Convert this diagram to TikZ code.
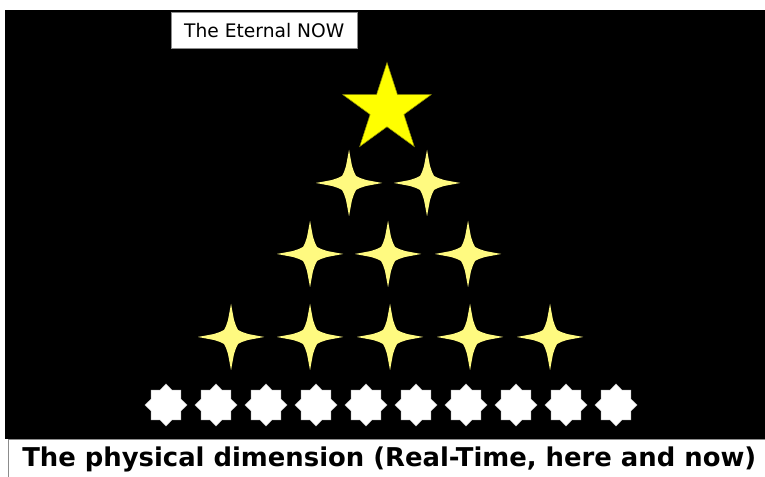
\documentclass[tikz,border=0pt]{standalone}
\usepackage{fontspec}
\setmainfont{DejaVu Sans}
\usetikzlibrary{shapes.geometric}

\definecolor{nowyellow}{RGB}{255,255,0}
\definecolor{nowedge}{RGB}{150,150,0}
\definecolor{sparkyellow}{RGB}{255,250,128}
\definecolor{boxgray}{RGB}{140,140,140}

\begin{document}
\begin{tikzpicture}[
  x=0.75pt, y=-0.75pt,
  labelbox/.style={draw=boxgray,fill=white,inner sep=0pt,anchor=north west},
  bigstar/.style={star,star points=5,star point ratio=2.618,fill=nowyellow,draw=nowedge,
    inner sep=0pt,minimum size=69.6pt},
  physstar/.style={star,star points=8,star point ratio=1.31,fill=white,draw=white!80!black,
    line width=0.3pt,inner sep=0pt,minimum size=31.5pt},
  sparkle/.pic={
    \foreach \r in {0,90,180,270}
      \fill[sparkyellow,rotate=\r] (0,0) -- (0,-33) -- (1.5,-25) -- (3,-17) -- (5,-11)
        -- (7,-7) -- (11,-5) -- (17,-3) -- (25,-1.5) -- (33,0) -- cycle;
  }
]
\clip (0,0) rectangle (765,477);
\fill[white] (0,0) rectangle (765,477);
\fill[black] (5,10) rectangle (765,439);

% labels
\node[labelbox,minimum width=139.5pt,minimum height=27pt,font=\fontsize{14}{16}\selectfont]
  (eternal) at (171,12) {The Eternal NOW};
\node[labelbox,minimum width=571.5pt,minimum height=30pt,font=\bfseries\fontsize{19.4}{22}\selectfont]
  (physical) at (8,439) {The physical dimension (Real-Time, here and now)};

% the star on top
\node[bigstar] (now) at (387,109) {};

% sparkles, row by row
\foreach \x [count=\i] in {349,427}
  \pic (rowa\i) at (\x,183) {sparkle};
\foreach \x [count=\i] in {310,388,468}
  \pic (rowb\i) at (\x,254) {sparkle};
\foreach \x [count=\i] in {231,310,390,470,550}
  \pic (rowc\i) at (\x,337) {sparkle};

% physical stars
\foreach \i in {0,...,9}
  \node[physstar] (phys\i) at (166+50*\i,405) {};
\end{tikzpicture}
\end{document}
